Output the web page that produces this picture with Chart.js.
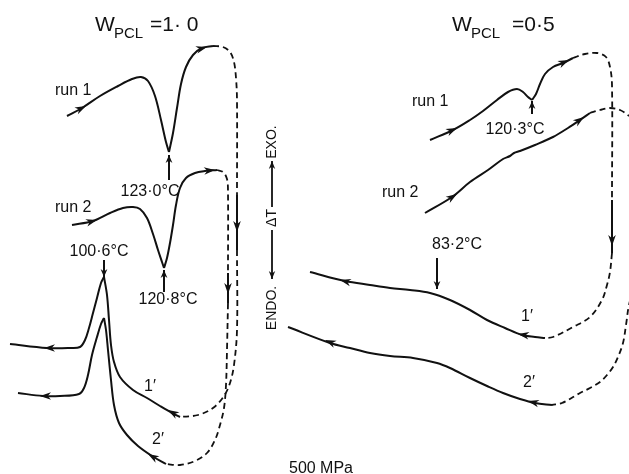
<!DOCTYPE html>
<html>
<head>
<meta charset="utf-8">
<script src="https://cdn.jsdelivr.net/npm/chart.js@4/dist/chart.umd.min.js"></script>
<style>
  html, body { margin: 0; padding: 0; background: #fff; }
  #thermo { display: block; }
</style>
</head>
<body>
<canvas id="thermo" width="629" height="474"></canvas>
<script>
// trace coordinates (x to the right, y downward, figure units)

// W_PCL = 1.0
const pcl10Run1Fall = [[67,116],[82,108],[100,96],[118,86],[132,79],[141,77],[148,81],[155,96],[161,120],[166,142],[169,152]];
const pcl10Run1Rise = [[169,152],[173,133],[177,108],[181,84],[186,67],[193,55],[202,48],[213,46]];
const pcl10Run1Over = [[213,46],[223,47],[230,52],[234,62],[236,78],[237,100],[237,195]];
const pcl10Run1Drop = [[237,195],[237,250]];
const pcl10Run1Back = [[237,250],[237,330],[234,365],[230,383],[224,396],[213,408],[198,415],[180,417]];
const pcl10Cool1Right = [[180,417],[172,413],[160,406],[147,398],[133,390],[120,377],[114,362],[111,345],[109,320],[107,295],[104,277]];
const pcl10Cool1Left = [[104,277],[101,283],[97,298],[93,313],[89,328],[85,340],[80,347],[70,348],[47,348],[10,344]];

const pcl10Run2Fall = [[72,225],[93,221],[110,213],[123,208],[133,207],[140,209],[147,218],[153,234],[158,250],[162,262],[164,268]];
const pcl10Run2Rise = [[164,268],[167,258],[170,243],[173,225],[176,205],[180,188],[186,178],[195,173],[205,171],[217,170]];
const pcl10Run2Over = [[217,170],[223,172],[227,179],[228,192],[228,273]];
const pcl10Run2Drop = [[228,273],[228,303]];
const pcl10Run2Back = [[228,303],[227,350],[226,385],[224,408],[220,425],[215,440],[207,453],[195,461],[180,465],[166,464]];
const pcl10Cool2Right = [[166,464],[152,456],[138,446],[127,435],[119,423],[114,405],[111,380],[108,350],[106,330],[104,318]];
const pcl10Cool2Left = [[104,318],[101,324],[97,337],[92,355],[88,375],[84,388],[79,394],[60,396],[43,396],[18,393]];

// W_PCL = 0.5
const pcl05Run1Fall = [[430,140],[453,130],[470,120],[483,111],[497,100],[508,92],[517,89],[523,92],[528,97],[532,100]];
const pcl05Run1Rise = [[532,100],[536,94],[540,84],[545,74],[553,67],[563,63],[573,58]];
const pcl05Run1Over = [[573,58],[585,54],[597,53],[606,57],[610,67],[612,85],[612,200]];
const pcl05Run1Drop = [[612,200],[612,253]];
const pcl05Run1Back = [[612,253],[610,272],[607,285],[602,300],[590,317],[573,327],[553,337],[545,338]];
const pcl05Cool1 = [[545,338],[535,337],[522,335],[505,328],[487,320],[470,310],[450,300],[430,293],[410,290],[390,288],[370,285],[345,281],[310,272]];

const pcl05Run2 = [[425,213],[452,197],[470,182],[488,170],[503,159],[510,156],[514,153],[520,151],[535,145],[553,137],[568,128],[580,120],[590,113]];
const pcl05Run2Over = [[590,113],[600,110],[610,108],[620,110],[629,116],[636,124]];
const pcl05Run2Back = [[636,280],[629,305],[626,325],[623,343],[618,357],[613,367],[607,375],[600,382],[590,388],[580,393],[562,403],[552,405]];
const pcl05Cool2 = [[552,405],[535,403],[520,399],[503,393],[487,386],[470,378],[450,368],[437,363],[413,358],[390,356],[370,353],[350,348],[330,343],[288,327]];

// arrowheads along the traces: tail x, tail y, tip x, tip y
const traceArrows = [
  [76,111,86,106], [196,50,207,47], [237,218,237,232], [180,417,168,410], [56,348,44,348],
  [86,223,97,220], [204,171,215,170], [228,280,228,294], [160,461,148,454], [52,396,40,396],
  [446,133,457,128], [558,65,569,60], [612,232,612,246], [530,336,518,334], [352,283,340,280],
  [446,201,457,194], [574,124,584,117], [540,404,528,401], [337,345,325,340]
];

// peak markers: from x, from y, to x, to y, label
const peakMarkers = [
  [169,180,169,155,'123·0°C'],
  [164,292,164,270,'120·8°C'],
  [104,260,104,277,'100·6°C'],
  [532,114,532,101,'120·3°C'],
  [437,258,437,289,'83·2°C']
];
const peakLabelAt = [[150,192],[168,300],[99,252],[515,130],[457,245]];

const runLabels = ['run 1', 'run 2', 'run 1', 'run 2', '1\u2032', '2\u2032', '1\u2032', '2\u2032'];
const runLabelAt = [[55,91],[55,208],[412,102],[382,193],[144,387],[152,440],[521,317],[523,383]];

const titleValues = ['=1· 0', '=0·5'];
const titleAt = [95, 452];
const titleValueAt = [150, 512];

const axisX = 272;
const axisParts = [['EXO.', 142], ['ΔT', 218], ['ENDO.', 308]];
const axisArrowUp = [207, 161];
const axisArrowDown = [230, 279];

const INK = '#111';
const FONT = '"Liberation Sans", Arial, sans-serif';

function pts(list) {
  return list.map(([x, y]) => ({ x, y }));
}

class Thermogram {
  constructor(canvas) {
    this.canvas = canvas;
    this.datasets = [];
  }

  trace(points, dashed) {
    this.datasets.push({
      data: pts(points),
      showLine: true,
      borderColor: INK,
      borderWidth: dashed ? 1.8 : 2,
      borderDash: dashed ? [6, 4] : [],
      pointRadius: 0,
      tension: 0.35,
      fill: false
    });
  }

  addTraces() {
    [pcl10Run1Fall, pcl10Run1Rise, pcl10Run1Drop, pcl10Cool1Right, pcl10Cool1Left,
     pcl10Run2Fall, pcl10Run2Rise, pcl10Run2Drop, pcl10Cool2Right, pcl10Cool2Left,
     pcl05Run1Fall, pcl05Run1Rise, pcl05Run1Drop, pcl05Cool1, pcl05Run2, pcl05Cool2
    ].forEach(p => this.trace(p, false));
    [pcl10Run1Over, pcl10Run1Back, pcl10Run2Over, pcl10Run2Back,
     pcl05Run1Over, pcl05Run1Back, pcl05Run2Over, pcl05Run2Back
    ].forEach(p => this.trace(p, true));
    peakMarkers.forEach(m => this.trace([[m[0], m[1]], [m[2], m[3]]], false));
  }

  static arrowHead(ctx, x1, y1, x2, y2, len, half) {
    const a = Math.atan2(y2 - y1, x2 - x1);
    ctx.save();
    ctx.translate(x2, y2);
    ctx.rotate(a);
    ctx.beginPath();
    ctx.moveTo(0, 0);
    ctx.lineTo(-len, -half);
    ctx.lineTo(-len * 0.7, 0);
    ctx.lineTo(-len, half);
    ctx.closePath();
    ctx.fill();
    ctx.restore();
  }

  decorations() {
    return {
      id: 'decorations',
      afterDatasetsDraw(chart) {
        const ctx = chart.ctx;
        const sx = v => chart.scales.x.getPixelForValue(v);
        const sy = v => chart.scales.y.getPixelForValue(v);
        ctx.save();
        ctx.fillStyle = INK;
        ctx.strokeStyle = INK;

        traceArrows.forEach(a => Thermogram.arrowHead(ctx, sx(a[0]), sy(a[1]), sx(a[2]), sy(a[3]), 11, 3.8));
        peakMarkers.forEach(m => Thermogram.arrowHead(ctx, sx(m[0]), sy(m[1]), sx(m[2]), sy(m[3]), 8, 3.4));

        ctx.textBaseline = 'middle';
        ctx.font = '16px ' + FONT;
        ctx.textAlign = 'center';
        peakMarkers.forEach((m, i) => ctx.fillText(m[4], sx(peakLabelAt[i][0]), sy(peakLabelAt[i][1])));

        ctx.textAlign = 'left';
        runLabels.forEach((t, i) => ctx.fillText(t, sx(runLabelAt[i][0]), sy(runLabelAt[i][1])));

        // titles W_PCL = ...
        ctx.textBaseline = 'alphabetic';
        titleAt.forEach((x, i) => {
          ctx.font = '21px ' + FONT;
          ctx.fillText('W', sx(x), sy(31));
          ctx.font = '15px ' + FONT;
          ctx.fillText('PCL', sx(x + 19), sy(38));
          ctx.font = '21px ' + FONT;
          ctx.fillText(titleValues[i], sx(titleValueAt[i]), sy(31));
        });

        ctx.font = '16px ' + FONT;
        ctx.textAlign = 'center';
        ctx.fillText('500 MPa', sx(321), sy(473));

        // vertical ENDO <- dT -> EXO note
        ctx.font = '14px ' + FONT;
        ctx.textBaseline = 'middle';
        axisParts.forEach(([t, y]) => {
          ctx.save();
          ctx.translate(sx(axisX), sy(y));
          ctx.rotate(-Math.PI / 2);
          ctx.fillText(t, 0, 0);
          ctx.restore();
        });
        ctx.lineWidth = 1.8;
        [axisArrowUp, axisArrowDown].forEach(([a, b]) => {
          ctx.beginPath();
          ctx.moveTo(sx(axisX), sy(a));
          ctx.lineTo(sx(axisX), sy(b));
          ctx.stroke();
          Thermogram.arrowHead(ctx, sx(axisX), sy(a), sx(axisX), sy(b), 8, 3.2);
        });
        ctx.restore();
      }
    };
  }

  createChart() {
    this.addTraces();
    new Chart(this.canvas, {
      type: 'scatter',
      data: { datasets: this.datasets },
      options: {
        responsive: false,
        animation: false,
        devicePixelRatio: 1,
        layout: { padding: 0 },
        clip: false,
        plugins: { legend: { display: false }, tooltip: { enabled: false } },
        scales: {
          x: { type: 'linear', min: 0, max: 629, display: false },
          y: { type: 'linear', min: 0, max: 474, reverse: true, display: false }
        }
      },
      plugins: [this.decorations()]
    });
  }
}

new Thermogram(document.getElementById('thermo')).createChart();
</script>
</body>
</html>
